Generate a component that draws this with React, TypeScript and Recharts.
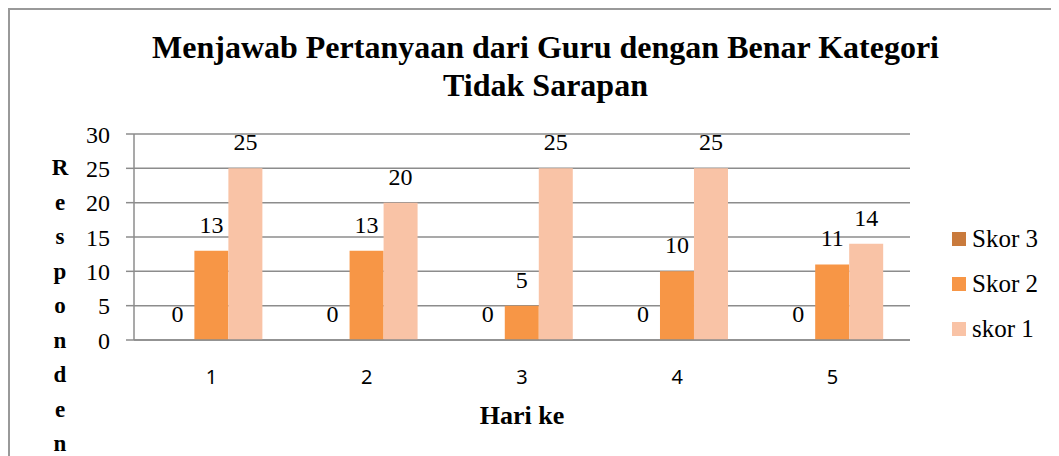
import { Bar, BarChart, CartesianGrid, LabelList, Legend, XAxis, YAxis } from "recharts";

const hari = ["1", "2", "3", "4", "5"];
const skor3 = [0, 0, 0, 0, 0];
const skor2 = [13, 13, 5, 10, 11];
const skor1 = [25, 20, 25, 25, 14];
const yTicks = [0, 5, 10, 15, 20, 25, 30];
const boundaryTicks = [0, 1, 2, 3, 4, 5];

const data = hari.map((h, i) => ({
  hari: h,
  idx: i + 0.5,
  skor3: skor3[i],
  skor2: skor2[i],
  skor1: skor1[i],
}));

const serif = "'Liberation Serif', 'DejaVu Serif', serif";
const grid = "#8c8c8c";

const series = [
  { key: "skor3", name: "Skor 3", color: "#c97a3c" },
  { key: "skor2", name: "Skor 2", color: "#f79646" },
  { key: "skor1", name: "skor 1", color: "#f9c3a6" },
];

function LegendBox() {
  return (
    <div style={{ fontFamily: serif, fontSize: 25, color: "#000" }}>
      {series.map((s) => (
        <div key={s.key} style={{ display: "flex", alignItems: "center", height: 45 }}>
          <span style={{ width: 14, height: 14, background: s.color, marginRight: 6 }} />
          <span>{s.name}</span>
        </div>
      ))}
    </div>
  );
}

// value above the bar (also shown for the zero-height bars)
function TopLabel(props: any) {
  const { x, y, width, value } = props;
  return (
    <text
      x={Number(x) + Number(width) / 2}
      y={Number(y) - 18}
      textAnchor="middle"
      fill="#000"
      fontSize={24}
      fontFamily={serif}
    >
      {value}
    </text>
  );
}

export default function App() {
  return (
    <div style={{ position: "relative", width: 1051, height: 448, overflow: "hidden" }}>
      <div
        style={{
          position: "absolute",
          left: 0,
          top: 0,
          width: 1100,
          height: 500,
          border: "2px solid #999",
          boxSizing: "border-box",
        }}
      />
      <div
        style={{
          position: "absolute",
          left: 0,
          width: 1075,
          top: 20,
          textAlign: "center",
          fontFamily: serif,
          fontWeight: "bold",
          fontSize: 32,
          lineHeight: "38px",
          color: "#000",
        }}
      >
        Menjawab Pertanyaan dari Guru dengan Benar Kategori
        <br />
        Tidak Sarapan
      </div>
      <div
        style={{
          position: "absolute",
          left: 40,
          width: 24,
          top: 143,
          textAlign: "center",
          fontFamily: serif,
          fontWeight: "bold",
          fontSize: 23,
          lineHeight: "34.5px",
          color: "#000",
        }}
      >
        {"Responden".split("").map((c, i) => (
          <div key={i}>{c}</div>
        ))}
      </div>
      <div
        style={{
          position: "absolute",
          left: 0,
          width: 1028,
          top: 393,
          textAlign: "center",
          fontFamily: serif,
          fontWeight: "bold",
          fontSize: 26,
          lineHeight: "30px",
          color: "#000",
        }}
      >
        Hari ke
      </div>
      <div style={{ position: "absolute", left: 0, top: 0 }}>
        <BarChart
          width={1051}
          height={448}
          data={data}
          margin={{ top: 126, left: 66, right: 39, bottom: 56 }}
          barCategoryGap="17%"
          barGap={0}
        >
          <CartesianGrid horizontal vertical={false} stroke={grid} strokeWidth={1.5} xAxisId="cat" />
          <XAxis
            type="number"
            dataKey="idx"
            domain={[0, 5]}
            ticks={boundaryTicks}
            height={10}
            axisLine={{ stroke: grid, strokeWidth: 1.5 }}
            tick={false}
            tickSize={8}
            tickLine={{ stroke: grid, strokeWidth: 1.5 }}
          />
          <XAxis
            xAxisId="cat"
            dataKey="hari"
            height={50}
            axisLine={false}
            tickLine={false}
            tickSize={0}
            tickMargin={20}
            tick={{ fill: "#000", fontSize: 20, fontFamily: "'Noto Sans', sans-serif" }}
          />
          <YAxis
            width={60}
            domain={[0, 30]}
            ticks={yTicks}
            tickSize={8}
            tickMargin={16}
            axisLine={{ stroke: grid, strokeWidth: 1.5 }}
            tickLine={{ stroke: grid, strokeWidth: 1.5 }}
            tick={{ fill: "#000", fontSize: 24, fontFamily: serif }}
          />
          <Legend
            layout="vertical"
            align="right"
            verticalAlign="middle"
            content={<LegendBox />}
            wrapperStyle={{ left: 944, top: 208, width: 110 }}
          />
          {series.map((s) => (
            <Bar
              key={s.key}
              xAxisId="cat"
              dataKey={s.key}
              name={s.name}
              fill={s.color}
              minPointSize={0.01}
              isAnimationActive={false}
            >
              <LabelList dataKey={s.key} content={<TopLabel />} />
            </Bar>
          ))}
        </BarChart>
      </div>
    </div>
  );
}
